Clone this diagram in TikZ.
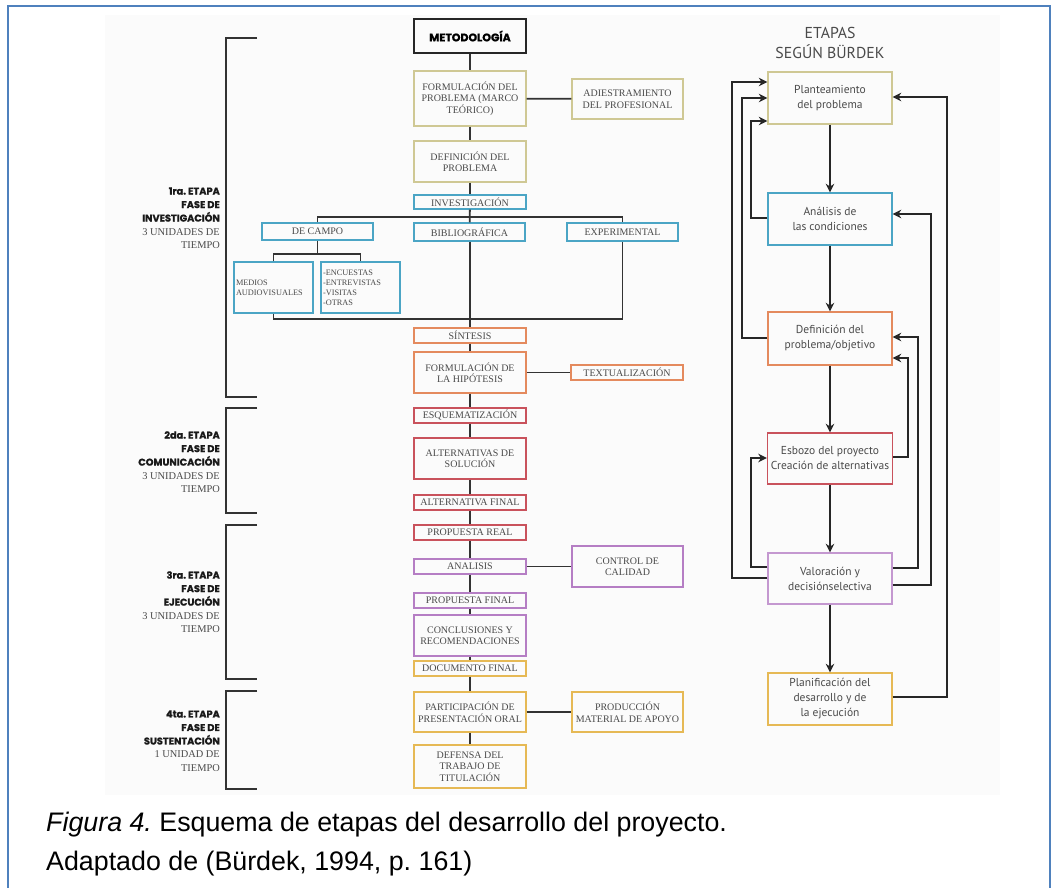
\documentclass[tikz,border=0pt]{standalone}
\usepackage{fontspec}
\setmainfont{Liberation Serif}
\newfontfamily\capfont{Liberation Sans}
\newfontfamily\rfont{PT Sans}
\newfontfamily\dispfont{Poppins}[BoldFeatures={FakeBold=1.2}]
\usetikzlibrary{arrows.meta}

\definecolor{frameblue}{HTML}{4F81BD}
\definecolor{khaki}{HTML}{CFC894}
\definecolor{cyanb}{HTML}{4BA5C5}
\definecolor{orangeb}{HTML}{E48A5E}
\definecolor{redb}{HTML}{C9525C}
\definecolor{purpleb}{HTML}{B57EC4}
\definecolor{goldb}{HTML}{E6B955}
\definecolor{txtgray}{HTML}{4A4A4A}
\definecolor{linegray}{HTML}{333333}

\newcommand{\dl}[1]{{\color{black!90}\dispfont\bfseries\fontsize{9.8}{13.5}\selectfont #1}}

\begin{document}
\frenchspacing
\begin{tikzpicture}[x=1pt,y=-1pt,
  mbox/.style={draw, line width=1.4pt, minimum width=112pt, inner sep=1pt,
    align=center, text=txtgray, font=\fontsize{10}{11.5}\selectfont},
  sbox/.style={mbox, minimum height=15pt},
  lbox/.style={mbox, text width=75pt, minimum width=79pt, inner sep=2pt,
    align=left, minimum height=51pt, draw=cyanb, font=\fontsize{8.3}{10}\selectfont},
  rbox/.style={draw, line width=1.4pt, minimum width=124pt, minimum height=52pt,
    align=center, text=txtgray, font=\rfont\fontsize{11.5}{15}\selectfont},
  conn/.style={draw=linegray, line width=1.8pt},
  fb/.style={draw=black!85, line width=1.8pt, -{Stealth[length=8.5pt,width=8.5pt]}},
  brk/.style={draw=linegray, line width=1.8pt},
  lab/.style={anchor=east, align=right, inner sep=0pt, text=txtgray,
    font=\fontsize{10.4}{13.5}\selectfont},
  captext/.style={anchor=base west, inner sep=0pt,
    font=\capfont\fontsize{26.8}{26}\selectfont}
]
\path[use as bounding box] (0,0) rectangle (1056,887);
\clip (0,0) rectangle (1056,887);

% page, light panel and blue frame
\fill[white] (0,0) rectangle (1056,887);
\fill[black!1.5] (105,15) rectangle (1000,795);
\draw[frameblue, line width=2.6pt] (8,6) rectangle (1050,900);

% phase brackets
\draw[brk] (257,38) -- (226,38) -- (226,397) -- (257,397);
\draw[brk] (257,408) -- (226,408) -- (226,513) -- (257,513);
\draw[brk] (257,525) -- (226,525) -- (226,679) -- (257,679);
\draw[brk] (257,691) -- (226,691) -- (226,789) -- (257,789);

% phase labels
\node[lab] (lab1) at (220,218) {\dl{1ra. ETAPA}\\\dl{FASE DE}\\\dl{INVESTIGACIÓN}\\3 UNIDADES DE\\TIEMPO};
\node[lab] (lab2) at (220,462) {\dl{2da. ETAPA}\\\dl{FASE DE}\\\dl{COMUNICACIÓN}\\3 UNIDADES DE\\TIEMPO};
\node[lab] (lab3) at (220,602) {\dl{3ra. ETAPA}\\\dl{FASE DE}\\\dl{EJECUCIÓN}\\3 UNIDADES DE\\TIEMPO};
\node[lab] (lab4) at (220,741) {\dl{4ta. ETAPA}\\\dl{FASE DE}\\\dl{SUSTENTACIÓN}\\1 UNIDAD DE\\TIEMPO};

% methodology column
\node[mbox, draw=black!85, line width=2pt, minimum height=34pt, text=black,
  font=\dispfont\bfseries\fontsize{11}{12}\selectfont] (meto) at (470,36) {METODOLOGÍA};
\node[mbox, draw=khaki, minimum height=55pt] (form) at (470,98.5) {FORMULACIÓN DEL\\PROBLEMA (MARCO\\TEÓRICO)};
\node[mbox, draw=khaki, minimum width=111pt, minimum height=40pt] (adies) at (627.5,99) {ADIESTRAMIENTO\\DEL PROFESIONAL};
\node[mbox, draw=khaki, minimum height=41pt] (defi) at (470,161.5) {DEFINICIÓN DEL\\PROBLEMA};
\node[sbox, draw=cyanb, minimum height=14pt] (inv) at (470,202) {INVESTIGACIÓN};
\node[sbox, draw=cyanb, minimum width=111pt, minimum height=17pt] (decampo) at (317.5,231.5) {DE CAMPO};
\node[sbox, draw=cyanb, minimum width=111pt, minimum height=18pt] (biblio) at (469.5,232) {BIBLIOGRÁFICA};
\node[sbox, draw=cyanb, minimum width=111pt, minimum height=18pt] (exper) at (622.5,232) {EXPERIMENTAL};
\node[lbox] (medios) at (273.5,287.5) {MEDIOS\\AUDIOVISUALES};
\node[lbox] (encuestas) at (360.5,287.5) {-ENCUESTAS\\-ENTREVISTAS\\-VISITAS\\-OTRAS};
\node[sbox, draw=orangeb] (sint) at (470,335.5) {SÍNTESIS};
\node[mbox, draw=orangeb, minimum height=41pt] (hipo) at (470,372.5) {FORMULACIÓN DE\\LA HIPÓTESIS};
\node[sbox, draw=orangeb] (textual) at (627,372.5) {TEXTUALIZACIÓN};
\node[sbox, draw=redb] (esq) at (470,415.5) {ESQUEMATIZACIÓN};
\node[mbox, draw=redb, minimum height=41pt] (altsol) at (470,458.5) {ALTERNATIVAS DE\\SOLUCIÓN};
\node[sbox, draw=redb] (altfin) at (470,502.5) {ALTERNATIVA FINAL};
\node[sbox, draw=redb] (propreal) at (470,532.5) {PROPUESTA REAL};
\node[sbox, draw=purpleb] (analisis) at (470,566.5) {ANALISIS};
\node[mbox, draw=purpleb, minimum width=111pt, minimum height=41pt] (control) at (627.5,566.5) {CONTROL DE\\CALIDAD};
\node[sbox, draw=purpleb] (propfin) at (470,600.5) {PROPUESTA FINAL};
\node[mbox, draw=purpleb, minimum height=41pt] (concl) at (470,635.5) {CONCLUSIONES Y\\RECOMENDACIONES};
\node[sbox, draw=goldb] (docfin) at (470,668.5) {DOCUMENTO FINAL};
\node[mbox, draw=goldb, minimum height=40pt] (partic) at (470,712) {PARTICIPACIÓN DE\\PRESENTACIÓN ORAL};
\node[mbox, draw=goldb, minimum width=111pt, minimum height=40pt] (produc) at (627.5,712) {PRODUCCIÓN\\MATERIAL DE APOYO};
\node[mbox, draw=goldb, minimum height=43pt] (defensa) at (470,766.5) {DEFENSA DEL\\TRABAJO DE\\TITULACIÓN};

% methodology connectors
\draw[conn] (meto) -- (form);
\draw[conn] (form) -- (adies);
\draw[conn] (form) -- (defi);
\draw[conn] (defi) -- (inv);
\draw[conn] (inv) -- (biblio);
\draw[conn] (decampo.north) -- (decampo.north |- 0,217) -- (exper.north |- 0,217) -- (exper.north);
\draw[conn] (decampo.south) -- (decampo.south |- 0,254);
\draw[conn] (medios.north) -- (medios.north |- 0,254) -- (encuestas.north |- 0,254) -- (encuestas.north);
\draw[conn] (medios.south) -- (medios.south |- 0,319) -- (exper.south |- 0,319) -- (exper.south);
\draw[conn] (biblio.south -| sint.north) -- (sint.north);
\draw[conn] (sint) -- (hipo);
\draw[conn] (hipo) -- (textual);
\draw[conn] (hipo) -- (esq);
\draw[conn] (esq) -- (altsol);
\draw[conn] (altsol) -- (altfin);
\draw[conn] (altfin) -- (propreal);
\draw[conn] (propreal) -- (analisis);
\draw[conn] (analisis) -- (control);
\draw[conn] (analisis) -- (propfin);
\draw[conn] (propfin) -- (concl);
\draw[conn] (concl) -- (docfin);
\draw[conn] (docfin) -- (partic);
\draw[conn] (partic) -- (produc);
\draw[conn] (partic) -- (defensa);

% Bürdek stages
\node[align=center, text=txtgray, font=\rfont\fontsize{15.8}{20}\selectfont] (etapas) at (830,43) {ETAPAS\\SEGÚN BÜRDEK};
\node[rbox, draw=khaki] (plan) at (830,98) {Planteamiento\\del problema};
\node[rbox, draw=cyanb] (anal) at (830,219) {Análisis de\\las condiciones};
\node[rbox, draw=orangeb, minimum height=53pt] (defp) at (830,338.5) {Definición del\\problema/objetivo};
\node[rbox, draw=redb, minimum height=51pt] (esb) at (830,458.5) {Esbozo del proyecto\\Creación de alternativas};
\node[rbox, draw=purpleb!80, minimum height=51pt] (val) at (830,578.5) {Valoración y\\decisiónselectiva};
\node[rbox, draw=goldb] (planif) at (830,699) {Planificación del\\desarrollo y de\\la ejecución};

\draw[fb] (plan) -- (anal);
\draw[fb] (anal) -- (defp);
\draw[fb] (defp) -- (esb);
\draw[fb] (esb) -- (val);
\draw[fb] (val) -- (planif);

% feedback loops, left side
\draw[fb] (val.west |- 0,578) -- (732,578) -- (732,82) -- (plan.west |- 0,82);
\draw[fb] (defp.west |- 0,338) -- (742,338) -- (742,98) -- (plan.west |- 0,98);
\draw[fb] (anal.west |- 0,218) -- (751,218) -- (751,121) -- (plan.west |- 0,121);
\draw[fb] (val.west |- 0,567) -- (751,567) -- (751,458) -- (esb.west |- 0,458);
% feedback loops, right side
\draw[fb] (planif.east |- 0,697) -- (947,697) -- (947,97) -- (plan.east |- 0,97);
\draw[fb] (val.east |- 0,585) -- (931,585) -- (931,214) -- (anal.east |- 0,214);
\draw[fb] (val.east |- 0,568) -- (918,568) -- (918,337) -- (defp.east |- 0,337);
\draw[fb] (esb.east |- 0,457) -- (908,457) -- (908,358) -- (defp.east |- 0,358);

% caption
\node[captext] (cap1) at (46,831)
  {\textit{Figura 4.}\ Esquema de etapas del desarrollo del proyecto.};
\node[captext] (cap2) at (46,870)
  {Adaptado de (Bürdek, 1994, p.\ 161)};
\end{tikzpicture}
\end{document}
